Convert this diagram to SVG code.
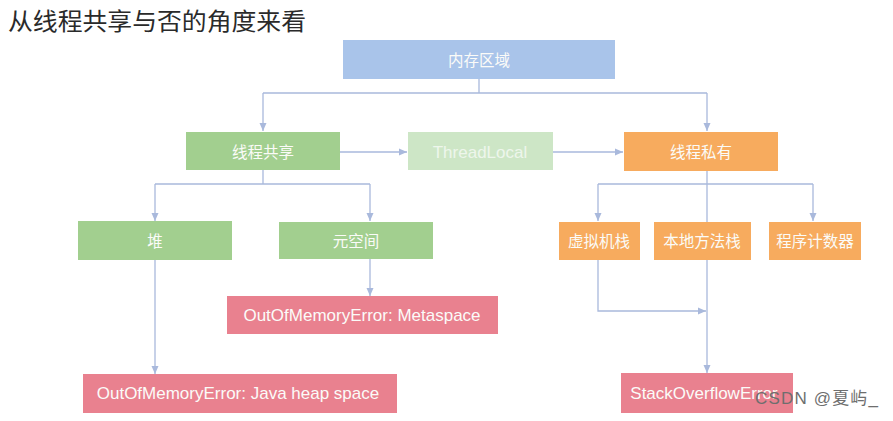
<svg xmlns="http://www.w3.org/2000/svg" width="893" height="421" viewBox="0 0 893 421">
<style>
.t{font-family:"Liberation Sans","Noto Sans CJK SC",sans-serif;fill:#fbfbf8;text-anchor:middle;dominant-baseline:central}
.cn{font-size:15.5px}
.en{font-size:17px}
.c{fill:none;stroke:#a9b9dc;stroke-width:1.3}
.blue{fill:#a9c4ea}
.green{fill:#a2cf8f}
.lgreen{fill:#cde6c6}
.orange{fill:#f7ab5e}
.red{fill:#e9818f}
</style>
<defs>
<marker id="ah" viewBox="0 0 8 8" refX="8" refY="4" markerWidth="8" markerHeight="8" markerUnits="userSpaceOnUse" orient="auto">
<path d="M0,0.5 L8,4 L0,7.5 z" fill="#a9b9dc"/>
</marker>
</defs>
<rect width="893" height="421" fill="#ffffff"/>
<text x="8" y="30" font-family="Noto Sans CJK SC,sans-serif" font-size="24" font-weight="400" fill="#2a2a2a" textLength="298" lengthAdjust="spacingAndGlyphs">从线程共享与否的角度来看</text>

<g id="connectors">
<path class="c" d="M479,79 V93 M263,93 H707"/>
<path class="c" d="M263,93 V131" marker-end="url(#ah)"/>
<path class="c" d="M707,93 V131" marker-end="url(#ah)"/>
<path class="c" d="M340,152 H407" marker-end="url(#ah)"/>
<path class="c" d="M553,152 H623" marker-end="url(#ah)"/>
<path class="c" d="M263,170 V184 M155,184 H370"/>
<path class="c" d="M155,184 V221" marker-end="url(#ah)"/>
<path class="c" d="M370,184 V221" marker-end="url(#ah)"/>
<path class="c" d="M707,171 V222 M598,184 H813"/>
<path class="c" d="M598,184 V221" marker-end="url(#ah)"/>
<path class="c" d="M813,184 V221" marker-end="url(#ah)"/>
<path class="c" d="M370,259 V296" marker-end="url(#ah)"/>
<path class="c" d="M155,260 V374" marker-end="url(#ah)"/>
<path class="c" d="M598,260 V311 H706" marker-end="url(#ah)"/>
<path class="c" d="M707,260 V373" marker-end="url(#ah)"/>
</g>

<g id="memory"><rect class="blue" x="343" y="40" width="272" height="39"/><text class="t cn" x="479" y="60">内存区域</text></g>
<g id="shared"><rect class="green" x="186" y="132" width="154" height="38"/><text class="t cn" x="263" y="152">线程共享</text></g>
<g id="threadlocal"><rect class="lgreen" x="408" y="132" width="145" height="38"/><text class="t en" x="480" y="152" style="fill:#eef6ec">ThreadLocal</text></g>
<g id="private"><rect class="orange" x="624" y="132" width="154" height="39"/><text class="t cn" x="701" y="152">线程私有</text></g>
<g id="heap"><rect class="green" x="78" y="221" width="154" height="39"/><text class="t cn" x="155" y="241">堆</text></g>
<g id="metaspace"><rect class="green" x="279" y="222" width="154" height="37"/><text class="t cn" x="356" y="241">元空间</text></g>
<g id="vmstack"><rect class="orange" x="559" y="222" width="81" height="38"/><text class="t cn" x="599" y="241">虚拟机栈</text></g>
<g id="nativestack"><rect class="orange" x="654" y="222" width="97" height="38"/><text class="t cn" x="702" y="241">本地方法栈</text></g>
<g id="pc"><rect class="orange" x="769" y="222" width="92" height="38"/><text class="t cn" x="815" y="241">程序计数器</text></g>
<g id="oom-meta"><rect class="red" x="227" y="296" width="271" height="38"/><text class="t en" x="362" y="315">OutOfMemoryError: Metaspace</text></g>
<g id="oom-heap"><rect class="red" x="83" y="374" width="314" height="39"/><text class="t en" x="238" y="393">OutOfMemoryError: Java heap space</text></g>
<g id="soe"><rect class="red" x="621" y="373" width="172" height="40"/><text class="t en" x="704" y="393">StackOverflowError</text></g>

<text x="755" y="404" font-family="Liberation Sans,Noto Sans CJK SC,sans-serif" font-size="17" fill="#6e6e6e" textLength="123">CSDN @夏屿_</text>
</svg>
